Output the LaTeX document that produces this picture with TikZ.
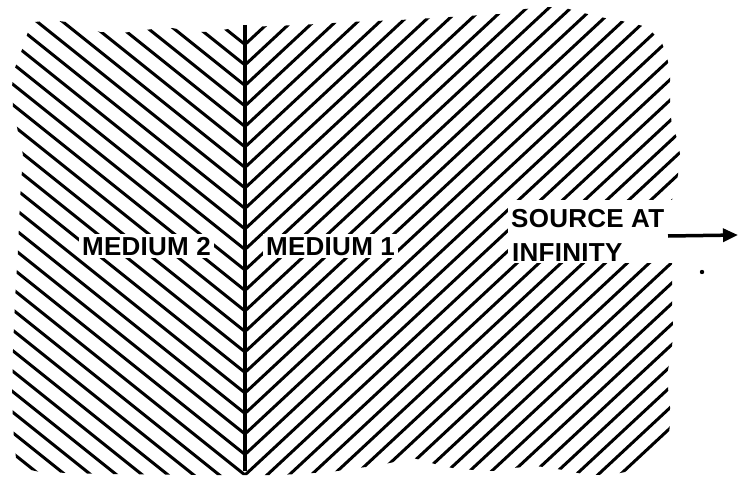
\documentclass[tikz,border=0pt]{standalone}
\usepackage{fontspec}
\newfontfamily\labfont{Liberation Sans}[LetterSpace=1]
\usetikzlibrary{arrows.meta}
\tikzset{
  hatch/.style={line width=3pt},
  lab/.style={font=\labfont\bfseries\fontsize{26}{26}\selectfont, inner sep=3pt, anchor=base west},
  boundary/.style={line width=4pt},
}
\begin{document}
\begin{tikzpicture}[x=1pt,y=-1pt]
\useasboundingbox (0,0) rectangle (738,481);
% left medium hatching
\begin{scope}
\clip (245,27) -- (228,29) -- (212,32) -- (192,32) -- (172,28) -- (153,29) -- (137,31) -- (122,33) -- (100,32) -- (85,27) -- (73,23) -- (52,20) -- (35,22) -- (28,32) -- (23,47) -- (18,60) -- (13,73) -- (12,88) -- (13,108) -- (18,132) -- (23,155) -- (20,200) -- (18,250) -- (15,300) -- (13,350) -- (12,400) -- (14,440) -- (17,467) -- (40,472) -- (100,474) -- (200,475) -- (245,475) -- cycle;
\foreach \k in {-1,...,34} {
  \draw[hatch] (245,24+20.5*\k) -- ++(-260,-0.8*260);
}
\end{scope}
% right medium hatching
\begin{scope}
\clip (245,27) -- (300,25) -- (350,22) -- (400,20) -- (450,17) -- (500,14) -- (525,9) -- (547,7) -- (565,8) -- (580,12) -- (595,16) -- (610,19) -- (627,22) -- (643,26) -- (653,33) -- (662,43) -- (667,57) -- (670,72) -- (670,90) -- (670,108) -- (672,126) -- (677,138) -- (680,154) -- (678,175) -- (672,200) -- (672,265) -- (672,300) -- (673,330) -- (672,348) -- (668,370) -- (668,388) -- (670,407) -- (670,425) -- (667,447) -- (645,468) -- (620,473) -- (600,475) -- (583,474) -- (552,468) -- (535,466) -- (513,468) -- (492,471) -- (475,470) -- (458,469) -- (442,466) -- (428,462) -- (413,458) -- (380,465) -- (330,472) -- (280,475) -- (245,475) -- cycle;
\foreach \k in {-1,...,46} {
  \draw[hatch] (245,24+20.5*\k) -- ++(460,-0.93*460);
}
\end{scope}
% white area around the source label
\fill[white] (508,200) rectangle (690,263);
% boundary between media
\coordinate (btop) at (245,25);
\coordinate (bbot) at (245,471);
\draw[boundary] (btop) -- (bbot);
% labels
\node[lab, fill=white] (m2) at (79,255) {MEDIUM 2};
\node[lab, fill=white] (m1) at (263,255) {MEDIUM 1};
\node[lab] (src1) at (508,227) {SOURCE AT};
\node[lab] (src2) at (509,261) {INFINITY};
% arrow
\coordinate (astart) at (668,236);
\coordinate (aend) at (738,235);
\draw[line width=3.5pt, -{Triangle[length=15pt,width=13pt]}] (astart) -- (aend);
% dot
\fill (702,272) circle (2.2pt);
\end{tikzpicture}
\end{document}
